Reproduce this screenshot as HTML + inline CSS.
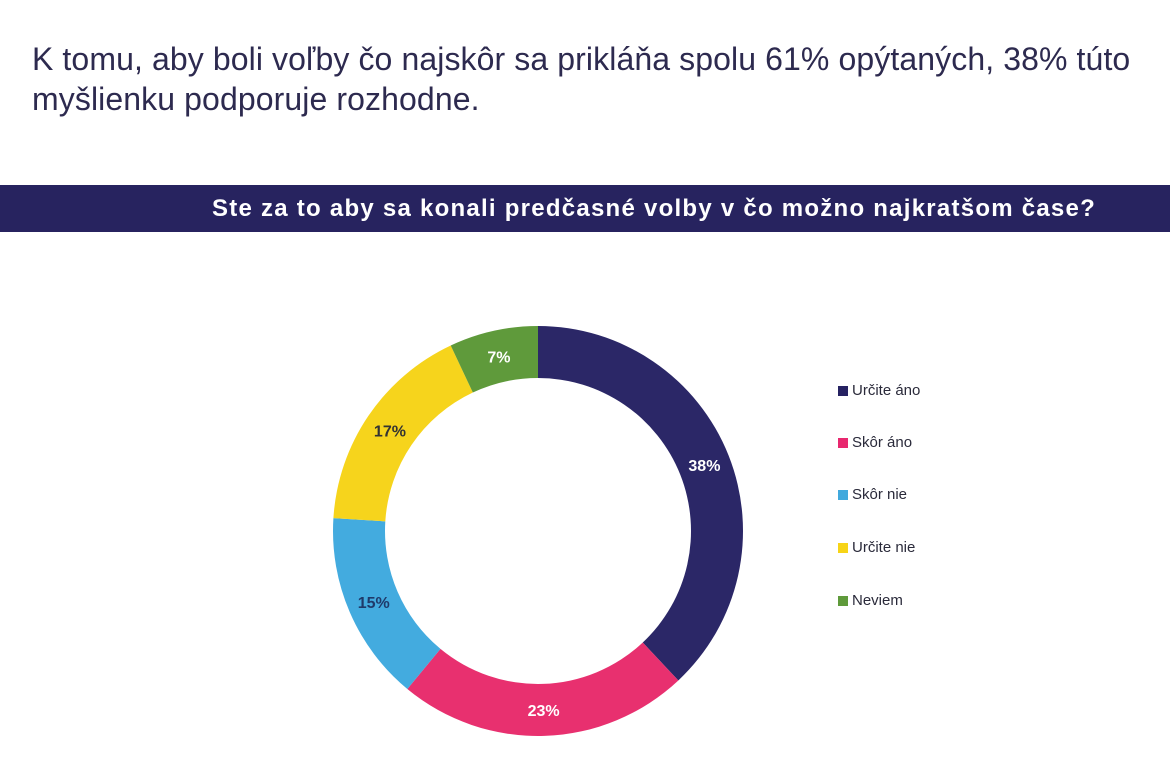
<!DOCTYPE html>
<html><head><meta charset="utf-8"><style>
body{margin:0;width:1170px;height:768px;background:#fff;font-family:"Liberation Sans",sans-serif;position:relative;overflow:hidden}
.t{position:absolute;left:32px;top:39px;font-size:32px;line-height:40px;color:#2d2a4f;width:1136px;letter-spacing:0.1px}
.b{position:absolute;left:0;top:185px;width:1170px;height:47px;background:#27235f;color:#fff;font-weight:bold;font-size:24px;line-height:47px;letter-spacing:1.25px}
.b span{position:absolute;left:212px;white-space:nowrap}
.lg{position:absolute;left:838px;font-size:15px;color:#2a2a3a;line-height:18px}
.lg i{display:inline-block;width:10px;height:10px;margin-right:4px;vertical-align:-1px}
</style></head><body>
<div class="t">K tomu, aby boli voľby čo najskôr sa prikláňa spolu 61% opýtaných, 38% túto myšlienku podporuje rozhodne.</div>
<div class="b"><span>Ste za to aby sa konali predčasné volby v čo možno najkratšom čase?</span></div>
<svg width="1170" height="768" style="position:absolute;left:0;top:0">
<g id="d"></g>
</svg>
<div class="lg" style="top:382px"><i style="background:#262262"></i>Určite áno</div>
<div class="lg" style="top:434px"><i style="background:#e8286f"></i>Skôr áno</div>
<div class="lg" style="top:486px"><i style="background:#41a9dd"></i>Skôr nie</div>
<div class="lg" style="top:539px"><i style="background:#f7d417"></i>Určite nie</div>
<div class="lg" style="top:592px"><i style="background:#5f9a3b"></i>Neviem</div>
<script>
var cx=538,cy=531,R=205,r=153,vals=[38,23,15,17,7],cols=["#2b2767","#e8306f","#43abdf","#f6d41c","#5f9a3b"],
labs=["38%","23%","15%","17%","7%"],tc=["#fff","#fff","#1f3a6a","#333","#fff"],a=0,s="";
function p(ang,rad){var t=ang/100*2*Math.PI;return [cx+rad*Math.sin(t),cy-rad*Math.cos(t)];}
for(var i=0;i<5;i++){var b=a+vals[i],L=vals[i]>50?1:0,p1=p(a,R),p2=p(b,R),p3=p(b,r),p4=p(a,r);
s+='<path fill="'+cols[i]+'" d="M'+p1+' A'+R+' '+R+' 0 '+L+' 1 '+p2+' L'+p3+' A'+r+' '+r+' 0 '+L+' 0 '+p4+'Z"/>';
var m=p((a+b)/2,(R+r)/2);s+='<text x="'+m[0]+'" y="'+(m[1]+6)+'" text-anchor="middle" font-family="Liberation Sans,sans-serif" font-weight="bold" font-size="16" fill="'+tc[i]+'">'+labs[i]+'</text>';a=b;}
document.getElementById("d").innerHTML=s;
</script>
</body></html>
